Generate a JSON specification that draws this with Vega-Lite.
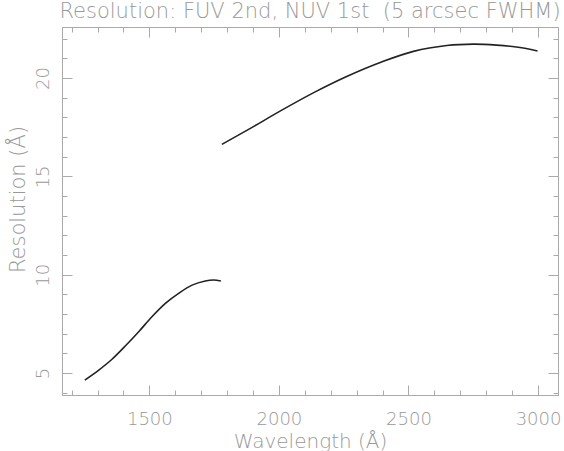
{
  "$schema": "https://vega.github.io/schema/vega-lite/v6.json",
  "autosize": "none",
  "width": 496,
  "height": 368,
  "padding": {"left": 62, "top": 27, "right": 6, "bottom": 56},
  "background": "#ffffff",
  "title": {
    "text": "Resolution: FUV 2nd, NUV 1st \u00a0(5 arcsec FWHM)",
    "font": "DejaVu Sans",
    "fontSize": 21,
    "fontWeight": 200,
    "color": "#999999",
    "anchor": "middle",
    "offset": 5
  },
  "config": {
    "view": {"stroke": "#aaaaaa", "strokeWidth": 1},
    "axis": {
      "grid": false,
      "domainColor": "#aaaaaa",
      "tickColor": "#aaaaaa",
      "labelColor": "#999999",
      "titleColor": "#999999",
      "labelFont": "DejaVu Sans",
      "titleFont": "DejaVu Sans",
      "labelFontWeight": 200,
      "titleFontWeight": 200,
      "labelFontSize": 18,
      "titleFontSize": 20
    }
  },
  "data": {
    "values": [
      {"series": "FUV 2nd", "wl": 1251, "res": 4.64},
      {"series": "FUV 2nd", "wl": 1305, "res": 5.15},
      {"series": "FUV 2nd", "wl": 1356, "res": 5.7},
      {"series": "FUV 2nd", "wl": 1407, "res": 6.37},
      {"series": "FUV 2nd", "wl": 1459, "res": 7.1},
      {"series": "FUV 2nd", "wl": 1510, "res": 7.86},
      {"series": "FUV 2nd", "wl": 1562, "res": 8.54},
      {"series": "FUV 2nd", "wl": 1613, "res": 9.05},
      {"series": "FUV 2nd", "wl": 1665, "res": 9.47},
      {"series": "FUV 2nd", "wl": 1716, "res": 9.68},
      {"series": "FUV 2nd", "wl": 1748, "res": 9.73},
      {"series": "FUV 2nd", "wl": 1776, "res": 9.68},
      {"series": "NUV 1st", "wl": 1780, "res": 16.63},
      {"series": "NUV 1st", "wl": 1883, "res": 17.39},
      {"series": "NUV 1st", "wl": 2011, "res": 18.37},
      {"series": "NUV 1st", "wl": 2140, "res": 19.3},
      {"series": "NUV 1st", "wl": 2268, "res": 20.12},
      {"series": "NUV 1st", "wl": 2396, "res": 20.82},
      {"series": "NUV 1st", "wl": 2519, "res": 21.36},
      {"series": "NUV 1st", "wl": 2648, "res": 21.66},
      {"series": "NUV 1st", "wl": 2750, "res": 21.73},
      {"series": "NUV 1st", "wl": 2840, "res": 21.68},
      {"series": "NUV 1st", "wl": 2930, "res": 21.56},
      {"series": "NUV 1st", "wl": 2998, "res": 21.38}
    ]
  },
  "layer": [
    {
      "mark": {"type": "line", "color": "#222222", "strokeWidth": 1.6, "interpolate": "catmull-rom", "clip": true},
      "encoding": {
        "x": {"field": "wl", "type": "quantitative",
          "scale": {"domain": [1163, 3077], "nice": false, "zero": false},
          "axis": {"orient": "bottom", "values": [1500, 2000, 2500, 3000], "format": "d", "tickSize": -10, "labelPadding": 25, "title": "Wavelength (Å)", "titlePadding": 3, "labelFlush": false}},
        "y": {"field": "res", "type": "quantitative",
          "scale": {"domain": [3.88, 22.6], "nice": false, "zero": false},
          "axis": {"orient": "left", "values": [5, 10, 15, 20], "format": "d", "tickSize": -10, "labelPadding": 20, "labelAngle": 270, "labelAlign": "center", "labelBaseline": "bottom", "title": "Resolution (Å)", "titleFontSize": 21, "titlePadding": 6, "titleY": 172, "labelFlush": false}},
        "detail": {"field": "series", "type": "nominal"}
      }
    },
    {
      "mark": {"type": "point", "opacity": 0},
      "encoding": {
        "x": {"field": "wl", "type": "quantitative",
          "scale": {"domain": [1163, 3077], "nice": false, "zero": false},
          "axis": {"orient": "bottom", "values": [1200,1300,1400,1600,1700,1800,1900,2100,2200,2300,2400,2600,2700,2800,2900], "tickSize": -5, "labels": false, "domain": false, "title": null}},
        "y": {"field": "res", "type": "quantitative",
          "scale": {"domain": [3.88, 22.6], "nice": false, "zero": false},
          "axis": {"orient": "left", "values": [4,6,7,8,9,11,12,13,14,16,17,18,19,21,22], "tickSize": -5, "labels": false, "domain": false, "title": null}}
      }
    },
    {
      "mark": {"type": "point", "opacity": 0},
      "encoding": {
        "x": {"field": "wl", "type": "quantitative",
          "scale": {"domain": [1163, 3077], "nice": false, "zero": false},
          "axis": {"orient": "top", "values": [1500, 2000, 2500, 3000], "tickSize": -10, "labels": false, "title": null}},
        "y": {"field": "res", "type": "quantitative",
          "scale": {"domain": [3.88, 22.6], "nice": false, "zero": false},
          "axis": {"orient": "right", "values": [5, 10, 15, 20], "tickSize": -10, "labels": false, "title": null}}
      }
    },
    {
      "mark": {"type": "point", "opacity": 0},
      "encoding": {
        "x": {"field": "wl", "type": "quantitative",
          "scale": {"domain": [1163, 3077], "nice": false, "zero": false},
          "axis": {"orient": "top", "values": [1200,1300,1400,1600,1700,1800,1900,2100,2200,2300,2400,2600,2700,2800,2900], "tickSize": -5, "labels": false, "domain": false, "title": null}},
        "y": {"field": "res", "type": "quantitative",
          "scale": {"domain": [3.88, 22.6], "nice": false, "zero": false},
          "axis": {"orient": "right", "values": [4,6,7,8,9,11,12,13,14,16,17,18,19,21,22], "tickSize": -5, "labels": false, "domain": false, "title": null}}
      }
    }
  ],
  "resolve": {"axis": {"x": "independent", "y": "independent"}}
}
